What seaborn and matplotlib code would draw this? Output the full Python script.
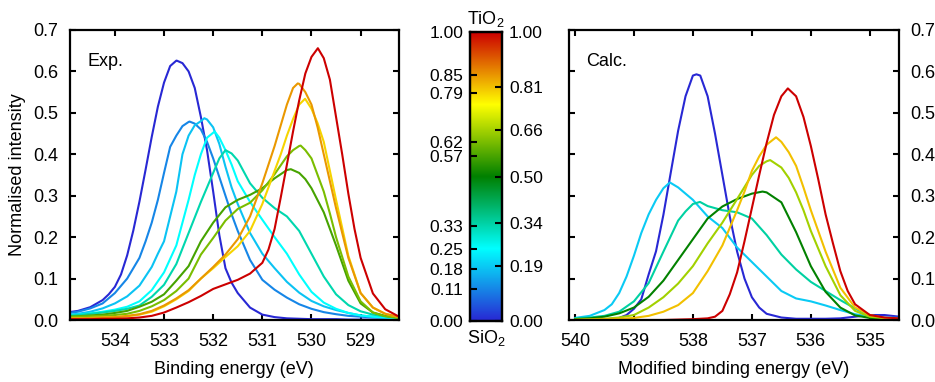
import matplotlib
matplotlib.use("Agg")
import matplotlib.pyplot as plt
import seaborn as sns
import pandas as pd
import numpy as np
from matplotlib.colors import LinearSegmentedColormap

# ---- experimental spectra (Exp.) ----
exp_energy = [535.0, 534.75, 534.5, 534.25, 534.0, 533.75, 533.5, 533.25, 533.0, 532.75,
              532.5, 532.25, 532.0, 531.75, 531.5, 531.25, 531.0, 530.75, 530.5, 530.25,
              530.0, 529.75, 529.5, 529.25, 529.0, 528.75, 528.5, 528.25]
exp_fraction = [0.00, 0.11, 0.18, 0.25, 0.33, 0.57, 0.62, 0.79, 0.85, 1.00]

exp_000 = [0.018, 0.022, 0.031, 0.048, 0.08, 0.156, 0.286, 0.442, 0.573, 0.626,
           0.60, 0.49, 0.31, 0.125, 0.065, 0.03, 0.013, 0.007, 0.004, 0.003,
           0.002, 0.002, 0.002, 0.001, 0.001, 0.001, 0.001, 0.001]
exp_011 = [0.016, 0.02, 0.028, 0.04, 0.065, 0.10, 0.15, 0.235, 0.355, 0.445,
           0.478, 0.46, 0.39, 0.30, 0.215, 0.145, 0.097, 0.073, 0.054, 0.038,
           0.027, 0.019, 0.014, 0.010, 0.008, 0.006, 0.005, 0.004]
exp_018 = [0.012, 0.015, 0.02, 0.028, 0.04, 0.057, 0.083, 0.128, 0.19, 0.31,
           0.445, 0.48, 0.465, 0.37, 0.28, 0.21, 0.16, 0.125, 0.092, 0.066,
           0.046, 0.033, 0.024, 0.017, 0.011, 0.008, 0.006, 0.004]
exp_025 = [0.010, 0.013, 0.016, 0.02, 0.025, 0.032, 0.045, 0.072, 0.115, 0.18,
           0.29, 0.40, 0.452, 0.41, 0.335, 0.285, 0.242, 0.20, 0.16, 0.11,
           0.068, 0.042, 0.027, 0.017, 0.011, 0.008, 0.006, 0.004]
exp_033 = [0.010, 0.012, 0.015, 0.018, 0.022, 0.027, 0.035, 0.056, 0.085, 0.135,
           0.21, 0.285, 0.355, 0.41, 0.385, 0.33, 0.295, 0.27, 0.25, 0.215,
           0.16, 0.105, 0.062, 0.036, 0.021, 0.013, 0.009, 0.007]
exp_057 = [0.008, 0.009, 0.011, 0.013, 0.017, 0.022, 0.032, 0.044, 0.062, 0.095,
           0.13, 0.19, 0.235, 0.272, 0.29, 0.302, 0.318, 0.342, 0.362, 0.355,
           0.318, 0.26, 0.18, 0.095, 0.04, 0.018, 0.010, 0.006]
exp_062 = [0.007, 0.008, 0.009, 0.010, 0.012, 0.015, 0.022, 0.033, 0.048, 0.07,
           0.10, 0.158, 0.198, 0.24, 0.268, 0.283, 0.313, 0.352, 0.395, 0.42,
           0.39, 0.31, 0.20, 0.105, 0.045, 0.018, 0.009, 0.005]
exp_079 = [0.004, 0.004, 0.005, 0.006, 0.007, 0.009, 0.013, 0.02, 0.033, 0.05,
           0.07, 0.10, 0.125, 0.152, 0.178, 0.215, 0.28, 0.36, 0.445, 0.52,
           0.51, 0.43, 0.29, 0.155, 0.065, 0.03, 0.015, 0.008]
exp_085 = [0.004, 0.004, 0.005, 0.006, 0.007, 0.010, 0.014, 0.022, 0.035, 0.052,
           0.072, 0.10, 0.128, 0.158, 0.195, 0.25, 0.33, 0.42, 0.52, 0.57,
           0.52, 0.40, 0.27, 0.15, 0.065, 0.03, 0.015, 0.008]
exp_100 = [0.002, 0.002, 0.002, 0.003, 0.003, 0.004, 0.006, 0.010, 0.018, 0.03,
           0.043, 0.058, 0.075, 0.086, 0.097, 0.112, 0.138, 0.22, 0.375, 0.53,
           0.635, 0.632, 0.49, 0.305, 0.15, 0.064, 0.026, 0.010]
exp_curves = [exp_000, exp_011, exp_018, exp_025, exp_033,
              exp_057, exp_062, exp_079, exp_085, exp_100]

# extra readings (peaks and sharp bends), (energy, intensity)
exp_000_extra = [(534.125, 0.062), (533.875, 0.11), (533.625, 0.216), (533.375, 0.363),
                 (533.125, 0.515), (532.875, 0.613), (532.74, 0.626), (532.625, 0.62),
                 (532.375, 0.56), (532.125, 0.41), (531.875, 0.205), (531.625, 0.09)]
exp_011_extra = [(533.375, 0.19), (533.125, 0.29), (532.875, 0.418), (532.625, 0.468),
                 (532.48, 0.479), (532.375, 0.474), (532.125, 0.43), (531.875, 0.345),
                 (531.625, 0.255)]
exp_018_extra = [(533.125, 0.16), (532.875, 0.25), (532.625, 0.40), (532.375, 0.47),
                 (532.18, 0.487), (532.125, 0.484), (531.875, 0.425), (531.625, 0.32)]
exp_025_extra = [(532.625, 0.235), (532.375, 0.35), (532.125, 0.44), (531.97, 0.455),
                 (531.875, 0.44), (531.625, 0.375)]
exp_033_extra = [(532.125, 0.32), (531.875, 0.39), (531.625, 0.402)]
exp_057_extra = [(530.42, 0.364), (530.125, 0.34)]
exp_062_extra = [(530.375, 0.41), (530.22, 0.421), (530.125, 0.41), (529.875, 0.35),
                 (529.625, 0.257)]
exp_079_extra = [(530.625, 0.40), (530.375, 0.485), (530.13, 0.534), (529.875, 0.475),
                 (529.625, 0.36)]
exp_085_extra = [(530.625, 0.47), (530.375, 0.56), (530.28, 0.571), (530.125, 0.55),
                 (529.875, 0.465)]
exp_100_extra = [(530.875, 0.17), (530.625, 0.296), (530.375, 0.455), (530.125, 0.595),
                 (529.87, 0.656), (529.625, 0.58), (529.375, 0.40), (529.125, 0.22)]
exp_extras = [exp_000_extra, exp_011_extra, exp_018_extra, exp_025_extra, exp_033_extra,
              exp_057_extra, exp_062_extra, exp_079_extra, exp_085_extra, exp_100_extra]

# ---- calculated spectra (Calc.) ----
calc_energy = [540.0, 539.75, 539.5, 539.25, 539.0, 538.75, 538.5, 538.25, 538.0, 537.75,
               537.5, 537.25, 537.0, 536.75, 536.5, 536.25, 536.0, 535.75, 535.5, 535.25,
               535.0, 534.75, 534.5]
calc_fraction = [0.00, 0.19, 0.34, 0.50, 0.66, 0.81, 1.00]

calc_000 = [0.0, 0.0, 0.001, 0.005, 0.027, 0.11, 0.254, 0.457, 0.59, 0.54,
            0.35, 0.165, 0.055, 0.015, 0.006, 0.003, 0.003, 0.003, 0.004, 0.008,
            0.012, 0.012, 0.008]
calc_019 = [0.005, 0.010, 0.024, 0.065, 0.155, 0.255, 0.318, 0.32, 0.29, 0.25,
            0.222, 0.175, 0.14, 0.105, 0.07, 0.052, 0.045, 0.035, 0.024, 0.014,
            0.008, 0.006, 0.005]
calc_034 = [0.004, 0.006, 0.010, 0.02, 0.045, 0.089, 0.165, 0.24, 0.28, 0.275,
            0.265, 0.26, 0.245, 0.205, 0.158, 0.122, 0.092, 0.07, 0.048, 0.028,
            0.010, 0.004, 0.003]
calc_050 = [0.002, 0.004, 0.008, 0.016, 0.03, 0.056, 0.095, 0.145, 0.195, 0.245,
            0.274, 0.292, 0.305, 0.308, 0.284, 0.212, 0.13, 0.068, 0.03, 0.011,
            0.005, 0.003, 0.002]
calc_066 = [0.001, 0.002, 0.003, 0.006, 0.012, 0.03, 0.055, 0.088, 0.13, 0.185,
            0.235, 0.292, 0.35, 0.383, 0.368, 0.308, 0.215, 0.13, 0.06, 0.022,
            0.008, 0.004, 0.002]
calc_081 = [0.0, 0.001, 0.002, 0.003, 0.005, 0.010, 0.02, 0.036, 0.065, 0.118,
            0.18, 0.265, 0.36, 0.423, 0.43, 0.372, 0.265, 0.165, 0.078, 0.03,
            0.012, 0.005, 0.002]
calc_100 = [0.0, 0.0, 0.0, 0.0, 0.0, 0.0, 0.0, 0.001, 0.002, 0.004,
            0.022, 0.115, 0.27, 0.427, 0.54, 0.54, 0.42, 0.255, 0.118, 0.038,
            0.012, 0.006, 0.004]
calc_curves = [calc_000, calc_019, calc_034, calc_050, calc_066, calc_081, calc_100]

calc_000_extra = [(539.125, 0.012), (538.875, 0.05), (538.625, 0.166), (538.375, 0.356),
                  (538.125, 0.54), (537.94, 0.593), (537.875, 0.59), (537.625, 0.45),
                  (537.375, 0.25), (537.125, 0.10), (536.875, 0.03)]
calc_019_extra = [(539.375, 0.038), (539.125, 0.105), (538.875, 0.21), (538.625, 0.29),
                  (538.39, 0.332), (538.125, 0.305)]
calc_034_extra = [(538.125, 0.262), (537.88, 0.285)]
calc_050_extra = [(536.82, 0.31)]
calc_066_extra = [(536.875, 0.372), (536.69, 0.386), (536.375, 0.343), (536.125, 0.265)]
calc_081_extra = [(537.125, 0.31), (536.875, 0.395), (536.59, 0.441), (536.375, 0.405),
                  (536.125, 0.32)]
calc_100_extra = [(537.625, 0.008), (537.375, 0.062), (537.125, 0.19), (536.875, 0.35),
                  (536.625, 0.495), (536.39, 0.559), (536.125, 0.49), (535.875, 0.34),
                  (535.625, 0.185), (535.375, 0.07)]
calc_extras = [calc_000_extra, calc_019_extra, calc_034_extra, calc_050_extra,
               calc_066_extra, calc_081_extra, calc_100_extra]

yticks = [0.0, 0.1, 0.2, 0.3, 0.4, 0.5, 0.6, 0.7]
exp_xticks = [534, 533, 532, 531, 530, 529]
calc_xticks = [540, 539, 538, 537, 536, 535]

# SiO2 -> TiO2 colour scale
cmap = LinearSegmentedColormap.from_list(
    "sio2_tio2",
    [(0.0, "#2828d4"), (0.25, "#00ffff"), (0.5, "#008000"),
     (0.75, "#ffff00"), (1.0, "#cc0000")])


def long_table(energy, fractions, curves, extras):
    rows = []
    for frac, vals, extra in zip(fractions, curves, extras):
        pts = dict(zip(energy, vals))
        pts.update(dict(extra))
        for e in sorted(pts):
            rows.append({"energy": e, "intensity": pts[e], "x": f"{frac:.2f}"})
    return pd.DataFrame(rows)


df_exp = long_table(exp_energy, exp_fraction, exp_curves, exp_extras)
df_calc = long_table(calc_energy, calc_fraction, calc_curves, calc_extras)

sns.set_style("ticks")
plt.rcParams["font.family"] = ["Liberation Sans", "DejaVu Sans"]
plt.rcParams["mathtext.default"] = "regular"
for key in ("text.color", "axes.edgecolor", "axes.labelcolor", "xtick.color", "ytick.color"):
    plt.rcParams[key] = "black"

fig = plt.figure(figsize=(9.35, 3.82), dpi=100)
ax_exp = fig.add_axes([0.0745, 0.1623, 0.3522, 0.7592])
ax_calc = fig.add_axes([0.6086, 0.1623, 0.3526, 0.7592])
cax = fig.add_axes([0.5027, 0.1597, 0.0342, 0.7565])

sns.lineplot(data=df_exp, x="energy", y="intensity", hue="x",
             palette={f"{f:.2f}": cmap(f) for f in exp_fraction},
             estimator=None, legend=False, lw=1.5, ax=ax_exp)
sns.lineplot(data=df_calc, x="energy", y="intensity", hue="x",
             palette={f"{f:.2f}": cmap(f) for f in calc_fraction},
             estimator=None, legend=False, lw=1.5, ax=ax_calc)

for ax in (ax_exp, ax_calc):
    ax.set_ylim(0, 0.7)
    ax.set_yticks(yticks, labels=[f"{v:.1f}" for v in yticks])
    ax.tick_params(direction="in", top=True, right=True, left=True, bottom=True,
                   length=4, width=1.5, labelsize=13, pad=8)
    ax.tick_params(axis="x", pad=9)
    for s in ax.spines.values():
        s.set_linewidth(1.6)

ax_exp.set_xlim(534.92, 528.22)
ax_exp.set_xticks(exp_xticks, labels=[str(v) for v in exp_xticks])
ax_exp.set_xlabel("Binding energy (eV)", fontsize=13, labelpad=8)
ax_exp.set_ylabel("Normalised intensity", fontsize=13, labelpad=5)
ax_exp.text(0.053, 0.893, "Exp.", transform=ax_exp.transAxes, fontsize=13,
            ha="left", va="center")

ax_calc.set_xlim(540.1, 534.51)
ax_calc.set_xticks(calc_xticks, labels=[str(v) for v in calc_xticks])
ax_calc.set_xlabel("Modified binding energy (eV)", fontsize=13, labelpad=8)
ax_calc.set_ylabel("")
ax_calc.tick_params(axis="y", labelleft=False, labelright=True)
ax_calc.text(0.052, 0.893, "Calc.", transform=ax_calc.transAxes, fontsize=13,
             ha="left", va="center")

# colour bar: experimental compositions on the left, calculated on the right
gradient = np.linspace(0, 1, 256).reshape(-1, 1)
cax.imshow(gradient, aspect="auto", cmap=cmap, origin="lower", extent=[0, 1, 0, 1])
cax.set_xticks([])
cax.set_ylim(0, 1)
cax.set_yticks(exp_fraction, labels=[f"{v:.2f}" for v in exp_fraction])
cax.tick_params(axis="y", direction="in", length=5, width=1.5, labelsize=12.5, pad=5)
cax2 = cax.twinx()
cax2.set_ylim(0, 1)
cax2.set_yticks(calc_fraction, labels=[f"{v:.2f}" for v in calc_fraction])
cax2.tick_params(axis="y", direction="in", length=5, width=1.5, labelsize=12.5, pad=5)
for a in (cax, cax2):
    for s in a.spines.values():
        s.set_linewidth(1.6)
cax.text(0.5, 1.01, "TiO$_2$", transform=cax.transAxes, ha="center", va="bottom", fontsize=13)
cax.text(0.5, -0.025, "SiO$_2$", transform=cax.transAxes, ha="center", va="top", fontsize=13)

fig.savefig("out.png", dpi=100)
